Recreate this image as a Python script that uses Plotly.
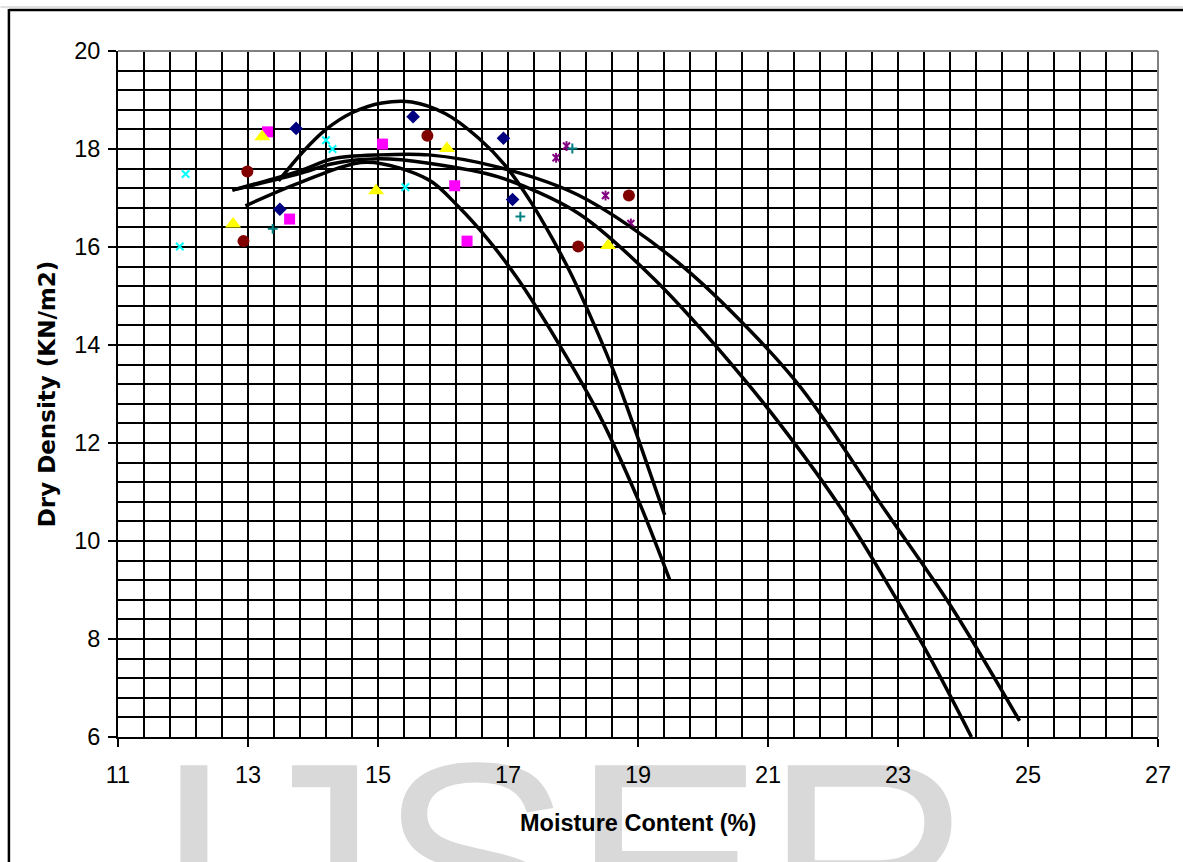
import plotly.graph_objects as go

# ---------------- data ----------------
navy_x = [13.74, 15.54, 16.93, 13.49, 17.07]
navy_y = [18.42, 18.66, 18.22, 16.77, 16.97]

magenta_x = [13.30, 15.07, 13.64, 16.18, 16.37]
magenta_y = [18.35, 18.10, 16.57, 17.25, 16.12]

yellow_x = [13.22, 12.77, 14.97, 16.06, 18.54]
yellow_y = [18.25, 16.47, 17.15, 18.01, 16.03]

cyan_x = [12.04, 11.95, 14.20, 14.30, 15.42]
cyan_y = [17.49, 16.01, 18.18, 18.00, 17.22]

purple_x = [17.74, 17.90, 18.50, 18.89]
purple_y = [17.82, 18.06, 17.05, 16.48]

maroon_x = [12.99, 12.93, 15.76, 18.08, 18.86]
maroon_y = [17.54, 16.12, 18.27, 16.01, 17.05]

teal_x = [13.38, 17.19, 17.99]
teal_y = [16.37, 16.62, 18.01]

curve_a_x = [13.47, 13.85, 14.20, 14.60, 15.06, 15.52, 16.04, 16.55, 16.96, 17.36, 17.67, 17.97, 18.33, 18.66, 19.00, 19.41]
curve_a_y = [17.35, 17.95, 18.40, 18.74, 18.94, 18.96, 18.72, 18.22, 17.66, 16.90, 16.20, 15.45, 14.40, 13.35, 12.10, 10.53]

curve_b_x = [12.96, 13.79, 14.82, 15.78, 16.24, 16.70, 17.16, 17.77, 18.39, 19.00, 19.49]
curve_b_y = [16.84, 17.31, 17.73, 17.37, 16.82, 16.14, 15.33, 14.05, 12.61, 10.85, 9.20]

curve_c_x = [12.76, 13.79, 14.30, 15.02, 15.78, 16.85, 18.08, 19.26, 20.64, 21.45, 22.17, 23.40, 24.13]
curve_c_y = [17.16, 17.50, 17.70, 17.80, 17.71, 17.43, 16.69, 15.33, 13.29, 11.92, 10.57, 7.84, 6.00]

curve_d_x = [12.76, 13.79, 14.30, 15.02, 15.78, 16.85, 18.08, 19.61, 21.41, 22.83, 23.80, 24.87]
curve_d_y = [17.16, 17.55, 17.80, 17.88, 17.88, 17.63, 17.06, 15.69, 13.29, 10.57, 8.70, 6.33]

x_title = "Moisture Content (%)"
y_title = "Dry Density (KN/m2)"
watermark = "IJSER"

# ---------------- layout geometry ----------------
W, H = 1183, 862
L, R, T, B = 118, 21, 51, 125
PW = W - L - R
PH = H - T - B


def px(x):
    return (x - L) / PW


def py(y):
    return (H - B - y) / PH


FONT = "Liberation Sans, Arial, Helvetica, sans-serif"
WIDE = "DejaVu Sans, Verdana, sans-serif"

fig = go.Figure()

marker_series = [
    (navy_x, navy_y, dict(symbol="diamond", size=10.5, color="#000080")),
    (magenta_x, magenta_y, dict(symbol="square", size=11, color="#FF00FF")),
    (yellow_x, yellow_y, dict(symbol="triangle-up", size=14, color="#FFFF00")),
    (cyan_x, cyan_y, dict(symbol="x-thin-open", size=7.5, color="#00FFFF", line=dict(color="#00FFFF", width=2))),
    (purple_x, purple_y, dict(symbol="x-thin-open", size=7, color="#800080", line=dict(color="#800080", width=2))),
    (purple_x, purple_y, dict(symbol="line-ns-open", size=7, color="#800080", line=dict(color="#800080", width=2))),
    (maroon_x, maroon_y, dict(symbol="circle", size=12, color="#800000")),
    (teal_x, teal_y, dict(symbol="cross-thin-open", size=7, color="#008080", line=dict(color="#008080", width=2))),
]
for mx, my, mk in marker_series:
    fig.add_trace(go.Scatter(x=mx, y=my, mode="markers", marker=mk,
                             showlegend=False, hoverinfo="skip"))

for cx, cy in [(curve_a_x, curve_a_y), (curve_b_x, curve_b_y),
               (curve_c_x, curve_c_y), (curve_d_x, curve_d_y)]:
    fig.add_trace(go.Scatter(x=cx, y=cy, mode="lines",
                             line=dict(color="black", width=3.5, shape="spline", smoothing=0.9),
                             showlegend=False, hoverinfo="skip"))

axis_common = dict(
    tickmode="linear", dtick=2, ticks="outside", ticklen=8, tickwidth=2,
    tickcolor="black", showline=True, linecolor="black", linewidth=2,
    showgrid=True, gridcolor="black", gridwidth=2, zeroline=False,
    tickfont=dict(size=23.5, family=FONT, color="black"),
)
fig.update_xaxes(range=[11, 27], tick0=11, ticklabelstandoff=8,
                 minor=dict(tick0=11, dtick=0.4, showgrid=True, gridcolor="black", gridwidth=2, ticks=""),
                 **axis_common)
fig.update_yaxes(range=[6, 20], tick0=6, ticklabelstandoff=3,
                 minor=dict(tick0=6, dtick=0.4, showgrid=True, gridcolor="black", gridwidth=2, ticks=""),
                 **axis_common)

shapes = [
    # watermark (below everything)
    dict(type="rect", xref="paper", yref="paper", x0=px(110), x1=px(1020), y0=py(950), y1=py(672),
         line=dict(width=0), fillcolor="rgba(0,0,0,0)", layer="below",
         label=dict(text=watermark, textposition="top center",
                    font=dict(size=289, color="#d9d9d9", family=FONT))),
    # plot-area top and right edges (gray)
    dict(type="line", xref="paper", yref="paper", x0=0, x1=1, y0=1, y1=1,
         line=dict(color="#808080", width=2), layer="above"),
    dict(type="line", xref="paper", yref="paper", x0=1, x1=1, y0=0, y1=1,
         line=dict(color="#808080", width=2), layer="above"),
    # outer chart frame
    dict(type="line", xref="paper", yref="paper", x0=px(0), x1=px(W + 5), y0=py(7), y1=py(7),
         line=dict(color="#c0c0c0", width=1), layer="above"),
    dict(type="line", xref="paper", yref="paper", x0=px(8.5), x1=px(W + 5), y0=py(10), y1=py(10),
         line=dict(color="black", width=2.5), layer="above"),
    dict(type="line", xref="paper", yref="paper", x0=px(8.5), x1=px(8.5), y0=py(9), y1=py(H + 5),
         line=dict(color="black", width=2.5), layer="above"),
]

annotations = [
    dict(text="<b>%s</b>" % x_title, xref="paper", yref="paper", x=px(640), y=py(823),
         xanchor="center", yanchor="middle", showarrow=False,
         font=dict(size=23.5, family=FONT, color="black")),
    dict(text="<b>%s</b>" % y_title, xref="paper", yref="paper", x=px(47), y=py(394),
         xanchor="center", yanchor="middle", showarrow=False, textangle=-90,
         font=dict(size=23, family=WIDE, color="black")),
]

fig.update_layout(
    width=W, height=H,
    margin=dict(l=L, r=R, t=T, b=B, pad=0),
    paper_bgcolor="white", plot_bgcolor="white",
    showlegend=False,
    font=dict(family=FONT, color="black"),
    shapes=shapes, annotations=annotations,
)

fig.write_html("out.html")
